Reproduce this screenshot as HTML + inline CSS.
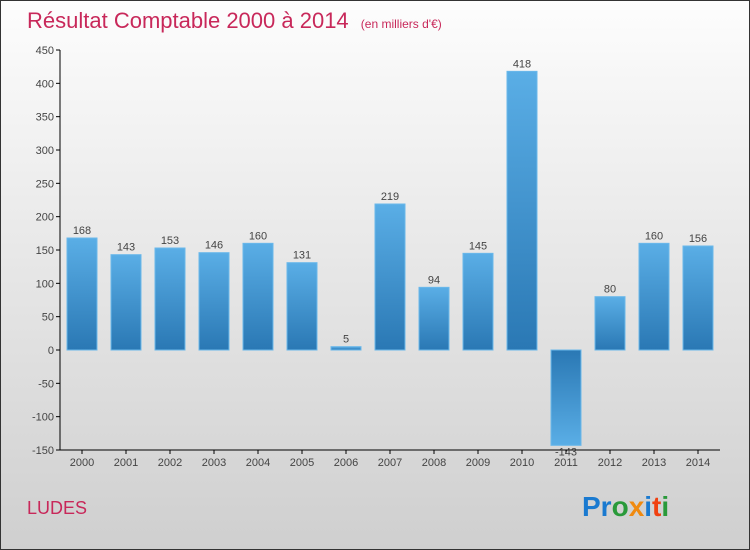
<!DOCTYPE html>
<html><head><meta charset="utf-8"><style>
body{margin:0;}
svg{display:block;font-family:"Liberation Sans",sans-serif;}
</style></head><body>
<svg width="750" height="550" xmlns="http://www.w3.org/2000/svg">
<defs>
<linearGradient id="bg" x1="0" y1="0" x2="0" y2="1"><stop offset="0" stop-color="#fdfdfd"/><stop offset="1" stop-color="#cfcfcf"/></linearGradient>
<linearGradient id="bp" x1="0" y1="0" x2="0" y2="1"><stop offset="0" stop-color="#5aaee6"/><stop offset="1" stop-color="#2a78b4"/></linearGradient>
<linearGradient id="bn" x1="0" y1="0" x2="0" y2="1"><stop offset="0" stop-color="#2a78b4"/><stop offset="1" stop-color="#5aaee6"/></linearGradient>
</defs>
<rect x="0.5" y="0.5" width="749" height="549" fill="url(#bg)" stroke="#333"/>
<text x="27" y="28" font-size="22" fill="#c8285a">Résultat Comptable 2000 à 2014 <tspan font-size="12" dx="6">(en milliers d'€)</tspan></text>
<text x="27" y="514" font-size="18" fill="#c8285a">LUDES</text>
<text x="582" y="516" font-size="28" font-weight="bold"><tspan fill="#1a7ad0">Pr</tspan><tspan fill="#2a9a3a">o</tspan><tspan fill="#f08a10">x</tspan><tspan fill="#1a7ad0">i</tspan><tspan fill="#f04010">t</tspan><tspan fill="#2a9a3a">i</tspan></text>
<g id="axes"></g>
<g id="bars"></g>
</svg>
<script>
const years=["2000","2001","2002","2003","2004","2005","2006","2007","2008","2009","2010","2011","2012","2013","2014"];
const values=[168,143,153,146,160,131,5,219,94,145,418,-143,80,160,156];
const yTicks=[450,400,350,300,250,200,150,100,50,0,-50,-100,-150];
const NS="http://www.w3.org/2000/svg";
const y0=50,y1=450,vmax=450,vmin=-150;
function ys(v){return y0+(vmax-v)/(vmax-vmin)*(y1-y0);}
function xs(i){return 82+i*44;}
function mk(t,a,p){const e=document.createElementNS(NS,t);for(const k in a)e.setAttribute(k,a[k]);p.appendChild(e);return e;}
const ax=document.getElementById('axes'),bg=document.getElementById('bars');
const ya=mk('line',{x1:60,y1:y0,x2:60,y2:y1,stroke:'#000'},ax);


const xa=mk('line',{x1:60,y1:y1,x2:720,y2:y1,stroke:'#000'},ax);


yTicks.forEach(v=>{
 mk('line',{x1:56,y1:ys(v),x2:60,y2:ys(v),stroke:'#000'},ax);
 const t=mk('text',{x:54,y:ys(v)+4,'text-anchor':'end','font-size':11,fill:'#444'},ax);
 t.textContent=v;
 
 
});
years.forEach((yr,i)=>{
 const x=xs(i),v=values[i];
 mk('line',{x1:x,y1:y1,x2:x,y2:y1+4,stroke:'#000'},ax);
 const t=mk('text',{x:x,y:y1+16,'text-anchor':'middle','font-size':11,fill:'#444'},ax);
 t.textContent=yr;
 
 
 const top=Math.min(ys(v),ys(0)),h=Math.abs(ys(v)-ys(0));
 const r=mk('rect',{x:x-15,y:top,width:30,height:Math.max(h,1),fill:v>=0?'url(#bp)':'url(#bn)',stroke:'#6ab8ea','stroke-width':1},bg);
 
 
 const l=mk('text',{x:x,y:v>=0?ys(v)-4:ys(v)+10,'text-anchor':'middle','font-size':11,fill:'#444'},bg);
 l.textContent=v;
 
 
});
</script>
</body></html>
